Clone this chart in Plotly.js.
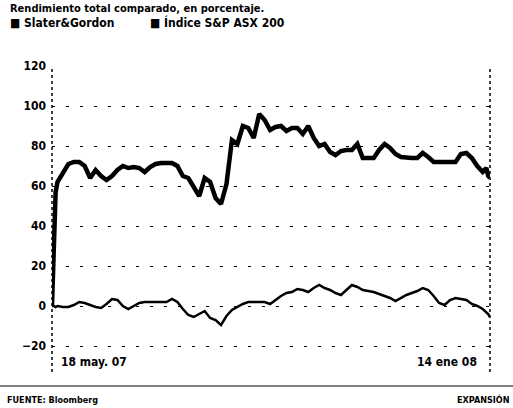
<!DOCTYPE html>
<html>
<head>
<meta charset="utf-8">
<script src="https://cdn.plot.ly/plotly-3.0.1.min.js"></script>
<style>html,body{margin:0;padding:0;background:#fff;}#chart{width:513px;height:408px;}</style>
</head>
<body>
<div id="chart"></div>
<script>
var dates = ['2007-05-18','2007-05-19','2007-05-20','2007-05-21','2007-05-24','2007-05-27','2007-05-30','2007-06-02','2007-06-05','2007-06-08','2007-06-11','2007-06-14','2007-06-17','2007-06-20','2007-06-23','2007-06-26','2007-06-29','2007-07-02','2007-07-05','2007-07-08','2007-07-11','2007-07-14','2007-07-17','2007-07-20','2007-07-23','2007-07-26','2007-07-29','2007-08-01','2007-08-04','2007-08-07','2007-08-10','2007-08-13','2007-08-16','2007-08-19','2007-08-22','2007-08-25','2007-08-28','2007-08-31','2007-09-03','2007-09-06','2007-09-09','2007-09-12','2007-09-15','2007-09-18','2007-09-21','2007-09-24','2007-09-27','2007-09-30','2007-10-03','2007-10-06','2007-10-09','2007-10-12','2007-10-15','2007-10-18','2007-10-21','2007-10-24','2007-10-27','2007-10-30','2007-11-02','2007-11-05','2007-11-08','2007-11-11','2007-11-14','2007-11-17','2007-11-20','2007-11-23','2007-11-26','2007-11-29','2007-12-02','2007-12-05','2007-12-08','2007-12-11','2007-12-14','2007-12-17','2007-12-20','2007-12-23','2007-12-26','2007-12-29','2008-01-01','2008-01-04','2008-01-07','2008-01-10','2008-01-12','2008-01-13','2008-01-14'];

var slaterGordon = [0,38,57,62,66,71,72,72,70,64,68,65,63,65,68,70,69,69.5,69,67,69.5,71,71.5,71.5,71.5,70,65,64,59,55,64,62,54,51,61,83,81,90,89,84,96,93,88,89.5,90,87.5,89,89,86,90,84,80,81,77,75.5,77.5,78,78,81,74,74,74,78,81,79,76,74.5,74,74,74,76.5,74.5,72,72,72,72,72,76,76.5,74,70,67,69,65,64];

var sp200 = [0,0,-0.5,0,-0.5,-0.5,0.5,2,1.5,0.5,-0.5,-1,1,3.5,3,0,-1.5,0,1.5,2,2,2,2,2,3.5,2,-1.5,-4.5,-5.5,-4,-2.5,-6,-7,-9.5,-5,-2,-0.5,1,2,2,2,2,1,3,5,6.5,7,8.5,8,7,9,10.5,9,8,6.5,5.5,8,10.5,9.5,8,7.5,7,6,5,4,2.5,4,5.5,6.5,7.5,9,8,5,1.5,0.5,3,4,3.5,3,1,0,-1.5,-3,-4,-5.5];

var yTicks = [-20,0,20,40,60,80,100,120];
var seriesNames = ['Slater&Gordon','Índice S&P ASX 200'];
var xLabels = ['18 may. 07','14 ene 08'];

var fnt = 'DejaVu Sans Condensed, Liberation Sans Narrow, sans-serif';

var traces = [
  {x: dates, y: slaterGordon, name: seriesNames[0], type: 'scatter', mode: 'lines',
   line: {color: '#000', width: 4.5}},
  {x: dates, y: sp200, name: seriesNames[1], type: 'scatter', mode: 'lines',
   line: {color: '#000', width: 2.5}}
];

var layout = {
  width: 513, height: 408,
  margin: {l: 52, r: 23, t: 66, b: 36},
  paper_bgcolor: '#fff', plot_bgcolor: '#fff',
  showlegend: false,
  font: {family: fnt, color: '#000', size: 12},
  xaxis: {
    type: 'date', range: [dates[0], dates[dates.length - 1]],
    showgrid: false, zeroline: false, showline: false,
    showticklabels: false, ticks: ''
  },
  yaxis: {
    range: [-33, 120], tickvals: yTicks, ticks: '',
    showgrid: true, gridcolor: '#000', gridwidth: 1, griddash: '3px,11px',
    zeroline: false, showline: false,
    tickfont: {family: fnt, size: 12, color: '#000', weight: 'bold'},
    ticklabelstandoff: 5
  },
  shapes: [
    {type: 'line', xref: 'paper', yref: 'paper', x0: 0, x1: 0, y0: 0, y1: 1,
     line: {color: '#000', width: 1.5, dash: 'dot'}},
    {type: 'line', xref: 'paper', yref: 'paper', x0: 1, x1: 1, y0: 0, y1: 1,
     line: {color: '#000', width: 1.5, dash: 'dot'}},
    {type: 'line', xref: 'paper', yref: 'paper', x0: -0.119, x1: 1.053, y0: -0.0458, y1: -0.0458,
     line: {color: '#000', width: 1.2}}
  ],
  annotations: [
    {xref: 'paper', yref: 'paper', x: -0.1, y: 1.2157, xanchor: 'left', yanchor: 'top',
     text: 'Rendimiento total comparado, en porcentaje.', showarrow: false,
     font: {family: fnt, size: 11, color: '#000', weight: 'bold'}},
    {xref: 'paper', yref: 'paper', x: -0.1, y: 1.141, xanchor: 'left', yanchor: 'middle',
     text: '■ ' + seriesNames[0], showarrow: false,
     font: {family: fnt, size: 12, color: '#000', weight: 'bold'}},
    {xref: 'paper', yref: 'paper', x: 0.219, y: 1.141, xanchor: 'left', yanchor: 'middle',
     text: '■ ' + seriesNames[1], showarrow: false,
     font: {family: fnt, size: 12, color: '#000', weight: 'bold'}},
    {xref: 'x', yref: 'paper', x: dates[0], y: 0.033, xanchor: 'left', yanchor: 'middle',
     xshift: 7, text: xLabels[0], showarrow: false,
     font: {family: fnt, size: 12, color: '#000', weight: 'bold'}},
    {xref: 'x', yref: 'paper', x: dates[dates.length - 1], y: 0.033, xanchor: 'right', yanchor: 'middle',
     xshift: -11, text: xLabels[1], showarrow: false,
     font: {family: fnt, size: 12, color: '#000', weight: 'bold'}},
    {xref: 'paper', yref: 'paper', x: -0.108, y: -0.0915, xanchor: 'left', yanchor: 'middle',
     text: 'FUENTE: Bloomberg', showarrow: false,
     font: {family: fnt, size: 9, color: '#000', weight: 'bold'}},
    {xref: 'paper', yref: 'paper', x: 1.05, y: -0.0915, xanchor: 'right', yanchor: 'middle',
     text: 'EXPANSIÓN', showarrow: false,
     font: {family: fnt, size: 9, color: '#000', weight: 'bold'}}
  ]
};

Plotly.newPlot('chart', traces, layout, {displayModeBar: false, staticPlot: true});
</script>
</body>
</html>
